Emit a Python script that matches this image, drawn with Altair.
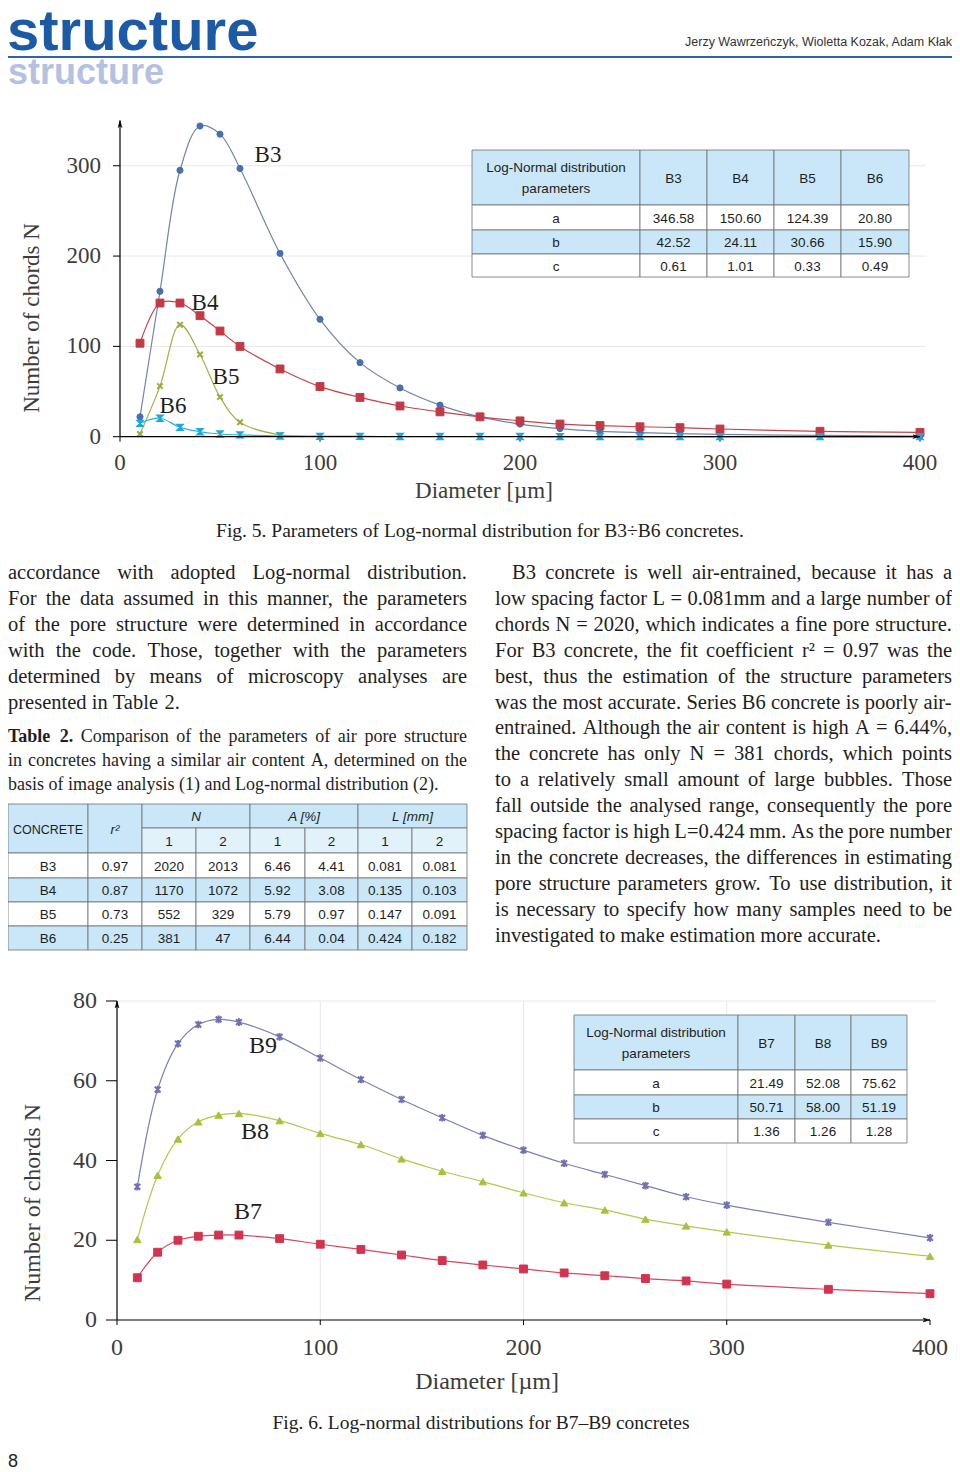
import altair as alt
import pandas as pd

# ---------------- data ----------------
diameter = [10, 20, 30, 40, 50, 60, 80, 100, 120, 140, 160, 180, 200, 220, 240, 260, 280, 300, 350, 400]

fig5_series = ["B3", "B4", "B5", "B6"]
b3 = [22, 161, 295, 344, 335, 297, 203, 130, 82, 54, 35, 22, 14, 9, 6, 4.5, 3.5, 2.5, 1.5, 0.8]
b4 = [103.5, 148, 148, 134, 117, 100, 75, 55.5, 43.5, 34, 27.5, 22, 17.5, 14, 12.3, 11, 10, 8.5, 6, 4.8]
b5 = [3, 56, 124, 91, 44, 16, 2, 0.5, 0.3, 0.2, 0.2, 0.2, 0.2, 0.1, 0.1, 0.1, 0.1, 0.1, 0.1, 0.1]
b6 = [14.8, 20.4, 10.4, 5.5, 3, 2, 0.8, 0.4, 0.3, 0.2, 0.2, 0.2, 0.2, 0.1, 0.1, 0.1, 0.1, 0.1, 0.1, 0.1]

fig6_series = ["B7", "B8", "B9"]
b7 = [10.6, 17, 20, 21, 21.3, 21.3, 20.4, 19, 17.7, 16.3, 14.9, 13.8, 12.8, 11.8, 11.1, 10.4, 9.8, 9, 7.7, 6.6]
b8 = [20.2, 36.3, 45.4, 49.7, 51.4, 51.8, 50, 46.8, 44, 40.4, 37.3, 34.7, 31.9, 29.4, 27.6, 25.3, 23.6, 22.1, 18.8, 16]
b9 = [33.4, 57.8, 69.3, 74.1, 75.4, 74.7, 71, 65.7, 60.3, 55.3, 50.7, 46.3, 42.6, 39.3, 36.5, 33.7, 30.9, 28.8, 24.5, 20.6]

fig5_yticks = [0, 100, 200, 300]
fig6_yticks = [0, 20, 40, 60, 80]
x_ticks = [0, 100, 200, 300, 400]

param_rows = ["a", "b", "c"]
t5_cols = ["B3", "B4", "B5", "B6"]
t5_a = ["346.58", "150.60", "124.39", "20.80"]
t5_b = ["42.52", "24.11", "30.66", "15.90"]
t5_c = ["0.61", "1.01", "0.33", "0.49"]

t6_cols = ["B7", "B8", "B9"]
t6_a = ["21.49", "52.08", "75.62"]
t6_b = ["50.71", "58.00", "51.19"]
t6_c = ["1.36", "1.26", "1.28"]

t2_concrete = ["B3", "B4", "B5", "B6"]
t2_r2 = ["0.97", "0.87", "0.73", "0.25"]
t2_N1 = ["2020", "1170", "552", "381"]
t2_N2 = ["2013", "1072", "329", "47"]
t2_A1 = ["6.46", "5.92", "5.79", "6.44"]
t2_A2 = ["4.41", "3.08", "0.97", "0.04"]
t2_L1 = ["0.081", "0.135", "0.147", "0.424"]
t2_L2 = ["0.081", "0.103", "0.091", "0.182"]

left_lines = [
    "accordance with adopted Log-normal distribution.",
    "For the data assumed in this manner, the parameters",
    "of the pore structure were determined in accordance",
    "with the code. Those, together with the parameters",
    "determined by means of microscopy analyses are",
    "presented in Table 2.",
]
caption_lines = [
    "Table 2. Comparison of the parameters of air pore structure",
    "in concretes having a similar air content A, determined on the",
    "basis of image analysis (1) and Log-normal distribution (2).",
]
right_lines = [
    "B3 concrete is well air-entrained, because it has a",
    "low spacing factor L = 0.081mm and a large number of",
    "chords N = 2020, which indicates a fine pore structure.",
    "For B3 concrete, the fit coefficient r\u00b2 = 0.97 was the",
    "best, thus the estimation of the structure parameters",
    "was the most accurate. Series B6 concrete is poorly air-",
    "entrained. Although the air content is high A = 6.44%,",
    "the concrete has only N = 381 chords, which points",
    "to a relatively small amount of large bubbles. Those",
    "fall outside the analysed range, consequently the pore",
    "spacing factor is high L=0.424 mm. As the pore number",
    "in the concrete decreases, the differences in estimating",
    "pore structure parameters grow. To use distribution, it",
    "is necessary to specify how many samples need to be",
    "investigated to make estimation more accurate.",
]

# ---------------- styles ----------------
SERIF = "Liberation Serif, Times New Roman, serif"
SANS = "Liberation Sans, Arial, sans-serif"
TXT = "#1e1e1e"
AX_TXT = "#3c3c3c"
HDR_BG = "#c9e7f8"
SUB_BG = "#e2f2fb"
WHITE = "#ffffff"
BORDER = "#6e6e6e"

X_PATH = "M-1,-1L1,1M-1,1L1,-1"
STAR_PATH = "M-1,-1L1,1M-1,1L1,-1M0,-1.3L0,1.3"
BOW_PATH = "M-1,-1L1,-1L-1,1L1,1Z"
ARROW_UP = "M0,0L0.6,2.2L0,1.6L-0.6,2.2Z"
ARROW_RIGHT = "M0,0L-2.2,-0.6L-1.6,0L-2.2,0.6Z"

# Times (Liberation Serif) advance widths, per 1000 em, used only to justify text lines
_W = {}
_W.update(dict(zip(" !\"#$%&'()*+,-./", [250, 333, 408, 500, 500, 833, 778, 180, 333, 333, 500, 564, 250, 333, 250, 278])))
_W.update({str(d): 500 for d in range(10)})
_W.update(dict(zip(":;<=>?@", [278, 278, 564, 564, 564, 444, 921])))
_W.update(dict(zip("ABCDEFGHIJKLMNOPQRSTUVWXYZ",
                   [722, 667, 667, 722, 611, 556, 722, 722, 333, 389, 722, 611, 889, 722, 722, 556, 722, 667, 556, 611,
                    722, 722, 944, 722, 722, 611])))
_W.update(dict(zip("abcdefghijklmnopqrstuvwxyz",
                   [444, 500, 444, 500, 444, 333, 500, 500, 278, 278, 500, 278, 778, 500, 500, 500, 500, 333, 389, 278,
                    500, 500, 722, 500, 500, 444])))
_W.update({"[": 333, "]": 333, "\u00b2": 300, "\u00b5": 500})
_WB = dict(_W)
_WB.update({"T": 667, "a": 500, "b": 556, "l": 278, "e": 444, "2": 500, ".": 250})


def wwidth(w, size, bold=False):
    tb = _WB if bold else _W
    return sum(tb.get(ch, 500) for ch in w) / 1000.0 * size


def justified(lines, left, width, y0, lh, size, indent=0, bold_words=0):
    rows = []
    n = len(lines)
    for li, line in enumerate(lines):
        words = line.split(" ")
        bold = [li == 0 and k < bold_words for k in range(len(words))]
        x0 = left + (indent if li == 0 else 0)
        avail = width - (x0 - left)
        ws = [wwidth(w, size, b) for w, b in zip(words, bold)]
        if li == n - 1 or len(words) == 1:
            gap = 0.25 * size
        else:
            gap = (avail - sum(ws)) / (len(words) - 1)
        x = x0
        for w, wd, b in zip(words, ws, bold):
            rows.append(dict(t=w, x=x, i=li, b="bold" if b else "normal"))
            x += wd + gap
    df = pd.DataFrame(rows)
    ysc = alt.Scale(domain=[0, n - 1], range=[y0, y0 + lh * (n - 1)], nice=False, zero=False)
    layers = []
    for weight in ["normal", "bold"]:
        sub = df[df.b == weight]
        if len(sub):
            layers.append(alt.Chart(sub).mark_text(align="left", baseline="middle", font=SERIF,
                                                   fontSize=size, color=TXT, fontWeight=weight).encode(
                text="t:N", x=alt.X("x:Q", scale=None), y=alt.Y("i:Q", scale=ysc, axis=None)))
    return alt.layer(*layers)


def txt(s, x, y, **kw):
    return alt.Chart(pd.DataFrame({"t": [s]})).mark_text(**kw).encode(
        text="t:N", x=alt.value(x), y=alt.value(y))


def table(cells, xe, ye, size, lh=21):
    rows = []
    for c0, c1, r0, r1, t, bg, style in cells:
        nl = t.count("\n") + 1
        rows.append(dict(x0=xe[c0], x1=xe[c1], y0=ye[r0], y1=ye[r1],
                         cx=(xe[c0] + xe[c1]) / 2, cy=(ye[r0] + ye[r1]) / 2 + 1 - (nl - 1) * lh / 2,
                         t=t, bg=bg, st=style))
    df = pd.DataFrame(rows)
    layers = [alt.Chart(df).mark_rect(stroke=BORDER, strokeWidth=0.8).encode(
        x=alt.X("x0:Q", scale=None), x2="x1:Q",
        y=alt.Y("y0:Q", scale=None), y2="y1:Q",
        fill=alt.Fill("bg:N", scale=None))]
    styles = {"n": dict(fontSize=size), "i": dict(fontSize=size, fontStyle="italic"),
              "s": dict(fontSize=size - 1)}
    for st, kw in styles.items():
        sub = df[df.st == st]
        if len(sub):
            layers.append(alt.Chart(sub).mark_text(font=SANS, color=TXT, baseline="middle",
                                                   lineBreak="\n", lineHeight=lh, **kw).encode(
                x=alt.X("cx:Q", scale=None), y=alt.Y("cy:Q", scale=None), text="t:N"))
    return alt.layer(*layers)


def figure(names, values, marks, xr, yr, ymax, yticks, hgrid, vgrid, labels, fs,
           tick_len, ylab_right, xlab_y, title_xy, ytitle_xy):
    xs = alt.Scale(domain=[0, 400], range=xr, nice=False, zero=False)
    ys = alt.Scale(domain=[0, ymax], range=yr, nice=False, zero=False)

    def X(f):
        return alt.X(f, scale=xs, axis=None)

    def Y(f):
        return alt.Y(f, scale=ys, axis=None)

    layers = []
    if hgrid:
        layers.append(alt.Chart(pd.DataFrame({"g": hgrid})).mark_rule(color="#e8e8e8", strokeWidth=1).encode(
            y=Y("g:Q"), x=alt.value(xr[0]), x2=alt.value(xr[1] + 6)))
    if vgrid:
        layers.append(alt.Chart(pd.DataFrame({"g": vgrid})).mark_rule(color="#e8e8e8", strokeWidth=1).encode(
            x=X("g:Q"), y=alt.value(yr[1]), y2=alt.value(yr[0])))
    layers.append(alt.Chart(pd.DataFrame({"x": [0], "y": [0], "y2": [ymax]})).mark_rule(
        color="black", strokeWidth=1.2).encode(x=X("x:Q"), y=Y("y:Q"), y2="y2:Q"))
    ydf = pd.DataFrame({"t": yticks, "lab": [str(v) for v in yticks]})
    layers.append(alt.Chart(ydf).mark_rule(color="black", strokeWidth=1).encode(
        y=Y("t:Q"), x=alt.value(xr[0] - tick_len), x2=alt.value(xr[0])))
    layers.append(alt.Chart(ydf).mark_text(align="right", baseline="middle", font=SERIF,
                                           fontSize=fs, color=AX_TXT).encode(
        y=Y("t:Q"), x=alt.value(ylab_right), text="lab:N"))
    xdf = pd.DataFrame({"t": x_ticks, "lab": [str(v) for v in x_ticks]})
    layers.append(alt.Chart(xdf).mark_rule(color="black", strokeWidth=1).encode(
        x=X("t:Q"), y=alt.value(yr[0]), y2=alt.value(yr[0] + 5)))
    layers.append(alt.Chart(xdf).mark_text(align="center", baseline="middle", font=SERIF,
                                           fontSize=fs, color=AX_TXT).encode(
        x=X("t:Q"), y=alt.value(xlab_y), text="lab:N"))
    for name, vals, (lc, mc, shape, size, filled, sw) in zip(names, values, marks):
        df = pd.DataFrame({"d": diameter, "v": vals})
        layers.append(alt.Chart(df).mark_line(interpolate="catmull-rom", color=lc, strokeWidth=1.2).encode(
            x=X("d:Q"), y=Y("v:Q")))
        kw = dict(shape=shape, size=size, stroke=mc, strokeWidth=sw, opacity=1)
        if filled:
            kw["fill"] = mc
            kw["fillOpacity"] = 1
        layers.append(alt.Chart(df).mark_point(**kw).encode(x=X("d:Q"), y=Y("v:Q")))
    layers.append(alt.Chart(pd.DataFrame({"x": [0], "x2": [400], "y": [0]})).mark_rule(
        color="black", strokeWidth=1.2).encode(x=X("x:Q"), x2="x2:Q", y=Y("y:Q")))
    layers.append(alt.Chart(pd.DataFrame({"x": [0], "y": [ymax]})).mark_point(
        shape=ARROW_UP, size=40, fill="black", stroke="black", strokeWidth=0.5, opacity=1).encode(
        x=X("x:Q"), y=Y("y:Q")))
    layers.append(alt.Chart(pd.DataFrame({"x": [400], "y": [0]})).mark_point(
        shape=ARROW_RIGHT, size=40, fill="black", stroke="black", strokeWidth=0.5, opacity=1).encode(
        x=X("x:Q"), y=Y("y:Q")))
    ldf = pd.DataFrame({"n": [l[0] for l in labels], "x": [l[1] for l in labels], "y": [l[2] for l in labels]})
    layers.append(alt.Chart(ldf).mark_text(font=SERIF, fontSize=fs, color=TXT, baseline="middle").encode(
        x=X("x:Q"), y=Y("y:Q"), text="n:N"))
    layers.append(txt("Diameter [\u00b5m]", title_xy[0], title_xy[1], font=SERIF, fontSize=fs,
                      color=AX_TXT, baseline="middle"))
    layers.append(txt("Number of chords N", ytitle_xy[0], ytitle_xy[1], font=SERIF, fontSize=fs,
                      color=AX_TXT, baseline="middle", angle=270))
    return alt.layer(*layers)


# ---------------- header ----------------
header = alt.layer(
    txt("structure", 0, 76, font=SANS, fontWeight="bold", fontSize=36,
        color="#b3c2e2", align="left", baseline="alphabetic"),
    alt.Chart(pd.DataFrame({"a": [0]})).mark_rule(color="#2b66ac", strokeWidth=2).encode(
        x=alt.value(0), x2=alt.value(944), y=alt.value(49)),
    txt("structure", -1, 42, font=SANS, fontWeight="bold", fontSize=58,
        color="#1c5aa6", align="left", baseline="alphabetic"),
    txt("Jerzy Wawrze\u0144czyk, Wioletta Kozak, Adam K\u0142ak", 944, 34, font=SANS,
        fontSize=12.5, color="#333333", align="right", baseline="middle"),
)

# ---------------- figure 5 ----------------
fig5 = figure(
    fig5_series, [b3, b4, b5, b6],
    [("#7284a8", "#4a6fae", "circle", 38, True, 1),
     ("#c8424c", "#c23a46", "square", 62, True, 1),
     ("#a3b04a", "#9aab3a", X_PATH, 30, False, 2),
     ("#2ab4d8", "#19a9e1", BOW_PATH, 34, True, 1.5)],
    xr=[112, 912], yr=[428.7, 112.6], ymax=350, yticks=fig5_yticks,
    hgrid=[100, 200, 300], vgrid=[],
    labels=[("B3", 74, 312), ("B4", 42.5, 148), ("B5", 53, 65.6), ("B6", 26.5, 34)],
    fs=23, tick_len=7, ylab_right=93, xlab_y=455, title_xy=(476, 483), ytitle_xy=(24, 310))

t5_x = [464, 632, 699, 766, 833, 901]
t5_y = [142, 197, 222, 246, 269]
t5_cells = [(0, 1, 0, 1, "Log-Normal distribution\nparameters", HDR_BG, "n")]
t5_cells += [(i + 1, i + 2, 0, 1, c, HDR_BG, "n") for i, c in enumerate(t5_cols)]
for r, (pname, vals) in enumerate(zip(param_rows, [t5_a, t5_b, t5_c])):
    bg = HDR_BG if r == 1 else WHITE
    t5_cells.append((0, 1, r + 1, r + 2, pname, bg, "n"))
    t5_cells += [(i + 1, i + 2, r + 1, r + 2, v, bg, "n") for i, v in enumerate(vals)]
table5 = table(t5_cells, t5_x, t5_y, 13.5)

# ---------------- captions / text ----------------
cap5 = txt("Fig. 5. Parameters of Log-normal distribution for B3\u00f7B6 concretes.", 472, 523,
           font=SERIF, fontSize=19.5, color=TXT, align="center", baseline="middle")
left_text = justified(left_lines, 0, 459, 565, 25.9, 20.5)
tab2_cap = justified(caption_lines, 0, 459, 729, 24, 18, bold_words=2)
right_text = justified(right_lines, 487, 457, 565, 25.9, 20.5, indent=17)

# ---------------- table 2 ----------------
t2_x = [0, 80, 134, 188, 242, 297, 350, 404, 459]
t2_y = [796, 820, 845, 870, 894, 918, 942]
t2_cells = [
    (0, 1, 0, 2, "CONCRETE", HDR_BG, "s"),
    (1, 2, 0, 2, "r\u00b2", HDR_BG, "i"),
    (2, 4, 0, 1, "N", HDR_BG, "i"),
    (4, 6, 0, 1, "A [%]", HDR_BG, "i"),
    (6, 8, 0, 1, "L [mm]", HDR_BG, "i"),
]
for k in range(3):
    t2_cells.append((2 + 2 * k, 3 + 2 * k, 1, 2, "1", SUB_BG, "n"))
    t2_cells.append((3 + 2 * k, 4 + 2 * k, 1, 2, "2", SUB_BG, "n"))
for r in range(4):
    bg = HDR_BG if r % 2 == 1 else WHITE
    row = [t2_concrete[r], t2_r2[r], t2_N1[r], t2_N2[r], t2_A1[r], t2_A2[r], t2_L1[r], t2_L2[r]]
    t2_cells += [(c, c + 1, r + 2, r + 3, v, bg, "n") for c, v in enumerate(row)]
table2 = table(t2_cells, t2_x, t2_y, 13.5)

# ---------------- figure 6 ----------------
fig6 = figure(
    fig6_series, [b7, b8, b9],
    [("#d9475e", "#d2344f", "square", 62, True, 1),
     ("#b2c94e", "#a6c23c", "triangle-up", 55, True, 1),
     ("#7b7fb8", "#6e72b0", STAR_PATH, 34, False, 2)],
    xr=[109, 922], yr=[1312, 993], ymax=80, yticks=fig6_yticks,
    hgrid=[80], vgrid=[100, 200, 300],
    labels=[("B7", 64.5, 27.1), ("B8", 67.9, 47.1), ("B9", 71.8, 68.7)],
    fs=24, tick_len=11, ylab_right=89, xlab_y=1340, title_xy=(479, 1374), ytitle_xy=(25, 1195))

t6_x = [566, 730, 787, 843, 899]
t6_y = [1007, 1062, 1087, 1111, 1135]
t6_cells = [(0, 1, 0, 1, "Log-Normal distribution\nparameters", HDR_BG, "n")]
t6_cells += [(i + 1, i + 2, 0, 1, c, HDR_BG, "n") for i, c in enumerate(t6_cols)]
for r, (pname, vals) in enumerate(zip(param_rows, [t6_a, t6_b, t6_c])):
    bg = HDR_BG if r == 1 else WHITE
    t6_cells.append((0, 1, r + 1, r + 2, pname, bg, "n"))
    t6_cells += [(i + 1, i + 2, r + 1, r + 2, v, bg, "n") for i, v in enumerate(vals)]
table6 = table(t6_cells, t6_x, t6_y, 13.5)

cap6 = txt("Fig. 6. Log-normal distributions for B7\u2013B9 concretes", 473, 1415,
           font=SERIF, fontSize=19.5, color=TXT, align="center", baseline="middle")
page_no = txt("8", 0, 1454, font=SANS, fontSize=18, color=TXT,
              align="left", baseline="middle")

chart = alt.layer(
    header, fig5, table5, cap5, left_text, tab2_cap, right_text, table2,
    fig6, table6, cap6, page_no,
).resolve_scale(
    x="independent", y="independent"
).properties(
    width=944, height=1464, autosize=alt.AutoSizeParams(type="none"), padding=0,
    background="white",
).configure_view(stroke=None)

chart.save("out.html", embed_options={"renderer": "svg", "actions": False})
